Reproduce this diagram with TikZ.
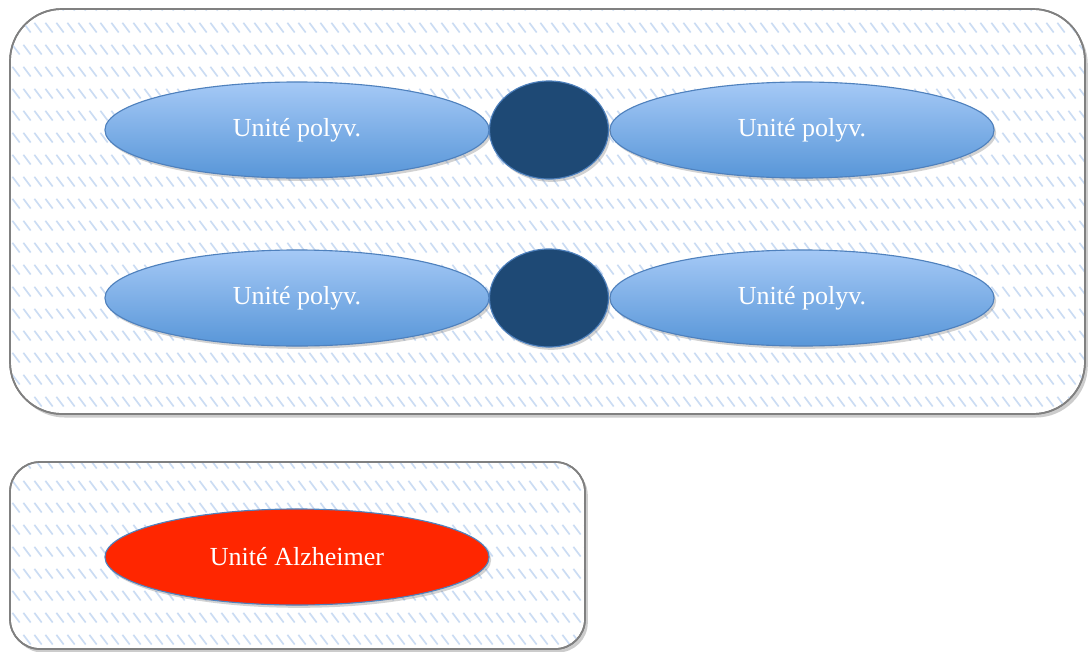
\documentclass[tikz,border=0pt]{standalone}
\usepackage{fontspec}
\setmainfont{Liberation Serif}
\usetikzlibrary{shapes.geometric,shadows,patterns}

\definecolor{unittop}{RGB}{165,201,246}
\definecolor{unitbot}{RGB}{88,150,216}
\definecolor{unitedge}{RGB}{79,129,189}
\definecolor{hub}{RGB}{30,73,117}
\definecolor{alzred}{RGB}{255,38,0}
\definecolor{hatch}{RGB}{203,220,243}
\definecolor{frame}{RGB}{128,128,128}

\pgfdeclarepatternformonly{dashhatch}{\pgfpointorigin}{\pgfpoint{7.8pt}{15.4pt}}{\pgfpoint{7.8pt}{15.4pt}}{
  \pgfsetlinewidth{1.2pt}
  \pgfpathmoveto{\pgfpoint{1pt}{12.4pt}}
  \pgfpathlineto{\pgfpoint{6.2pt}{5.4pt}}
  \pgfusepath{stroke}}

\tikzset{
  soft/.style={drop shadow={shadow xshift=1.5pt,shadow yshift=-2pt,opacity=.35}},
  blob/.style={ellipse,draw=unitedge,thick,text=white,inner sep=0pt,
    font=\fontsize{18.5}{20}\selectfont,minimum width=9.6cm,minimum height=2.4cm,soft},
  unit/.style={blob,top color=unittop,bottom color=unitbot},
  alz/.style={blob,fill=alzred},
  hubdot/.style={ellipse,draw=unitedge,thick,fill=hub,inner sep=0pt,
    minimum width=2.975cm,minimum height=2.45cm,soft},
  panel/.style={draw=frame,line width=1.2pt,fill=white,
    drop shadow={shadow xshift=2pt,shadow yshift=-2.5pt,opacity=.4}}
}

\begin{document}
\begin{tikzpicture}[x=0.025cm,y=-0.025cm]
    \useasboundingbox (0,0) rectangle (1088,652);
    % frames
    \foreach \a/\b/\rr in {{(10,9)}/{(1085,414)}/1.3cm,{(10,462)}/{(585,649)}/0.75cm}{
    \draw[panel,rounded corners=\rr] \a rectangle \b;
    \fill[pattern=dashhatch,pattern color=hatch,rounded corners=\rr] \a rectangle \b;
    \draw[frame,line width=1.2pt,rounded corners=\rr] \a rectangle \b;}
    % two rows of units joined by a hub
    \foreach \r/\y in {0/130,1/298}{
    \node[unit] (l\r) at (297,\y) {Unité polyv.};
    \node[unit] (r\r) at (802,\y) {Unité polyv.};
    \node[hubdot] (h\r) at (549,\y) {};}
    \node[alz] (alz) at (297,557) {Unité Alzheimer};
\end{tikzpicture}
\end{document}
